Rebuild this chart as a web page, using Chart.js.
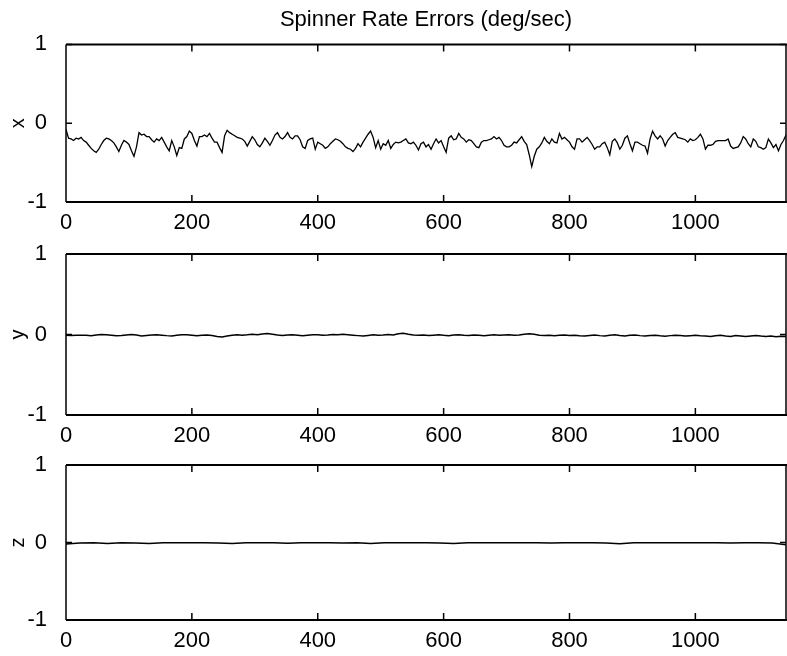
<!DOCTYPE html>
<html>
<head>
<meta charset="utf-8">
<script src="https://cdn.jsdelivr.net/npm/chart.js@4.4.1/dist/chart.umd.min.js"></script>
<style>
  html, body { margin: 0; padding: 0; background: #fff; }
  #wrap { position: relative; width: 787px; height: 656px; overflow: hidden; }
  canvas { position: absolute; left: 0; }
</style>
</head>
<body>
<div id="wrap">
  <canvas id="cx" width="787" height="238" style="top:0px"></canvas>
  <canvas id="cy" width="787" height="215" style="top:236px"></canvas>
  <canvas id="cz" width="787" height="209" style="top:447px"></canvas>
</div>
<script>
// Spinner rate errors, three axes (deg/sec)

const TITLE = "Spinner Rate Errors (deg/sec)";
const T_MAX = 1144;
const T_TICKS = [0, 200, 400, 600, 800, 1000];
const Y_TICKS = [-1, 0, 1];

// x error, one sample every 4 time units
const X_STEP = 4;
const X_ERR = [
  -0.08,-0.19,-0.20,-0.22,-0.19,-0.20,-0.18,-0.22,-0.24,-0.28,
  -0.32,-0.35,-0.37,-0.33,-0.27,-0.22,-0.19,-0.20,-0.22,-0.25,
  -0.30,-0.36,-0.28,-0.22,-0.24,-0.27,-0.35,-0.42,-0.30,-0.12,
  -0.15,-0.14,-0.17,-0.17,-0.21,-0.24,-0.20,-0.22,-0.18,-0.24,
  -0.30,-0.35,-0.22,-0.30,-0.41,-0.31,
  -0.32,-0.20,-0.17,-0.10,-0.13,-0.22,-0.29,-0.17,-0.17,-0.15,
  -0.17,-0.13,-0.19,-0.24,-0.24,-0.31,-0.37,-0.16,-0.09,-0.12,
  -0.14,-0.16,-0.18,-0.19,-0.20,-0.23,-0.29,-0.23,-0.17,-0.21,
  -0.27,-0.30,-0.25,-0.19,-0.23,-0.28,-0.22,-0.15,-0.12,-0.18,
  -0.20,-0.17,-0.12,-0.18,-0.20,-0.16,-0.16,-0.21,-0.30,-0.32,
  -0.22,-0.20,-0.19,-0.33,-0.24,-0.26,-0.28,-0.32,-0.30,-0.26,
  -0.23,-0.20,-0.21,-0.23,-0.26,-0.30,-0.32,-0.33,-0.36,-0.32,
  -0.26,-0.30,-0.24,-0.19,-0.14,-0.10,-0.18,-0.31,-0.22,-0.33,
  -0.26,-0.28,-0.22,-0.32,-0.27,-0.24,-0.25,-0.24,-0.22,-0.20,
  -0.25,-0.26,-0.24,-0.28,-0.34,-0.26,-0.24,
  -0.30,-0.27,-0.33,-0.26,-0.20,-0.25,-0.22,-0.30,-0.37,-0.19,
  -0.16,-0.21,-0.20,-0.13,-0.18,-0.20,-0.24,-0.21,-0.22,-0.26,
  -0.30,-0.31,-0.24,-0.22,-0.22,-0.21,-0.20,-0.17,-0.20,-0.18,
  -0.22,-0.28,-0.30,-0.30,-0.28,-0.24,-0.25,-0.21,-0.17,-0.23,
  -0.27,-0.40,-0.55,-0.42,-0.33,-0.30,-0.25,-0.18,
  -0.23,-0.26,-0.20,-0.24,-0.25,-0.13,-0.20,-0.18,-0.21,-0.24,
  -0.30,-0.33,-0.20,-0.20,-0.24,-0.21,-0.18,-0.22,-0.27,-0.33,
  -0.30,-0.30,-0.26,-0.24,-0.31,-0.40,-0.23,-0.20,-0.25,-0.33,
  -0.28,-0.19,-0.16,-0.26,-0.35,-0.24,-0.24,-0.26,-0.28,-0.29,
  -0.38,-0.20,-0.10,-0.16,-0.20,-0.16,-0.20,
  -0.29,-0.22,-0.18,-0.14,-0.12,-0.18,-0.19,-0.20,-0.21,-0.24,
  -0.20,-0.22,-0.21,-0.18,-0.14,-0.20,-0.33,-0.28,-0.28,-0.27,
  -0.23,-0.22,-0.22,-0.22,-0.22,-0.20,-0.29,-0.32,-0.31,-0.30,
  -0.25,-0.17,-0.20,-0.26,-0.30,-0.20,-0.23,-0.30,-0.31,-0.33,
  -0.31,-0.20,-0.25,-0.31,-0.27,-0.35,-0.27,-0.22,-0.15
];

// y error, one sample every 8 time units
const Y_STEP = 8;
const Y_ERR = [
  -0.010,-0.012,-0.010,-0.008,-0.010,-0.014,-0.006,0.000,-0.004,-0.010,-0.016,-0.012,-0.006,0.000,-0.006,-0.018,-0.012,-0.006,-0.002,-0.008,-0.014,-0.018,-0.010,-0.004,-0.002,
  -0.008,-0.014,-0.010,-0.006,-0.012,-0.026,-0.030,-0.020,-0.010,-0.004,-0.008,-0.004,0.002,-0.004,0.006,0.012,0.004,-0.006,-0.012,-0.006,-0.002,-0.008,-0.014,-0.008,-0.002,
  -0.004,-0.010,-0.006,0.000,-0.004,0.002,-0.002,-0.008,-0.014,-0.020,-0.012,-0.004,-0.010,-0.006,0.000,-0.006,0.008,0.016,0.004,-0.006,-0.010,-0.006,-0.012,-0.008,-0.004,
  -0.010,-0.014,-0.006,-0.002,-0.008,-0.012,-0.006,-0.010,-0.016,-0.008,-0.004,-0.010,-0.006,-0.002,-0.008,-0.006,0.004,0.010,0.002,-0.008,-0.012,-0.010,-0.014,-0.010,-0.006,
  -0.012,-0.008,-0.016,-0.020,-0.012,-0.006,-0.014,-0.020,-0.010,-0.004,-0.012,-0.018,-0.010,-0.006,-0.014,-0.020,-0.012,-0.008,-0.016,-0.022,-0.014,-0.008,-0.012,-0.018,-0.014,
  -0.010,-0.016,-0.020,-0.024,-0.016,-0.010,-0.018,-0.024,-0.014,-0.020,-0.026,-0.018,-0.012,-0.020,-0.026,-0.020,-0.028,-0.022,-0.026
];

// z error, one sample every 22 time units
const Z_STEP = 22;
const Z_ERR = [
  -0.020,-0.006,-0.004,-0.014,-0.004,-0.006,-0.012,-0.004,-0.002,-0.004,
  -0.004,-0.006,-0.012,-0.004,-0.002,-0.004,-0.010,-0.004,-0.002,-0.004,
  -0.006,-0.004,-0.012,-0.004,-0.002,-0.004,-0.004,-0.006,-0.014,-0.004,
  -0.002,-0.004,-0.004,-0.002,-0.004,-0.006,-0.004,-0.002,-0.004,-0.006,
  -0.016,-0.004,-0.002,-0.004,-0.004,-0.002,-0.004,-0.004,-0.006,-0.004,
  -0.004,-0.008,-0.030
];

Chart.defaults.font.family = "'Liberation Sans', Arial, Helvetica, sans-serif";
Chart.defaults.color = "#000";

// box round the plot plus inward tick marks, like the old matlab figures
const framePlugin = {
  id: "frame",
  afterDraw(chart) {
    const { ctx, chartArea: a, scales } = chart;
    ctx.save();
    ctx.strokeStyle = "#000";
    ctx.lineWidth = 2;
    ctx.beginPath();
    ctx.moveTo(a.left, a.top); ctx.lineTo(a.right + 1, a.top);
    ctx.moveTo(a.left, a.bottom); ctx.lineTo(a.right + 1, a.bottom);
    ctx.stroke();
    ctx.lineWidth = 1.5;
    ctx.beginPath();
    ctx.moveTo(a.left, a.top); ctx.lineTo(a.left, a.bottom);
    ctx.moveTo(a.right, a.top); ctx.lineTo(a.right, a.bottom);
    scales.x.ticks.forEach(t => {
      const px = scales.x.getPixelForValue(t.value);
      ctx.moveTo(px, a.top); ctx.lineTo(px, a.top + 7);
      ctx.moveTo(px, a.bottom); ctx.lineTo(px, a.bottom - 7);
    });
    scales.y.ticks.forEach(t => {
      const py = scales.y.getPixelForValue(t.value);
      ctx.moveTo(a.left, py); ctx.lineTo(a.left + 6, py);
      ctx.moveTo(a.right, py); ctx.lineTo(a.right - 6, py);
    });
    ctx.stroke();
    ctx.restore();
  },
};

function makePanel(id, values, step, label, withTitle, padTop, lw) {
  const pts = values.map((v, i) => ({ x: i * step, y: v }));
  new Chart(document.getElementById(id), {
    type: "line",
    data: {
      datasets: [{
        data: pts,
        borderColor: "#000",
        borderWidth: lw,
        pointRadius: 0,
        tension: 0,
        fill: false,
      }],
    },
    options: {
      responsive: false,
      animation: false,
      layout: { padding: { top: padTop, right: 1, left: 0, bottom: 0 } },
      plugins: {
        legend: { display: false },
        tooltip: { enabled: false },
        title: {
          display: withTitle,
          text: TITLE,
          fullSize: false,
          color: "#000",
          font: { size: 22, weight: "normal" },
          padding: { top: 7, bottom: 11 },
        },
      },
      scales: {
        x: {
          type: "linear",
          min: 0,
          max: T_MAX,
          grid: { display: false },
          border: { display: false },
          afterBuildTicks: s => { s.ticks = T_TICKS.map(v => ({ value: v })); },
          afterFit: s => { s.height = 36; s.paddingLeft = 0; s.paddingRight = 0; },
          ticks: { font: { size: 22 }, color: "#000", padding: 0, maxRotation: 0, callback: v => String(v) },
        },
        y: {
          min: -1,
          max: 1,
          grid: { display: false },
          border: { display: false },
          afterBuildTicks: s => { s.ticks = Y_TICKS.map(v => ({ value: v })); },
          afterFit: s => { s.width = 66; s.paddingTop = 0; s.paddingBottom = 0; },
          ticks: { font: { size: 22 }, color: "#000", padding: 11, callback: v => String(v) },
          title: {
            display: true,
            text: label,
            color: "#000",
            font: { size: 20 },
            padding: { top: 6, bottom: 0 },
          },
        },
      },
    },
    plugins: [framePlugin],
  });
}

makePanel("cx", X_ERR, X_STEP, "x", true, 0, 1.3);
makePanel("cy", Y_ERR, Y_STEP, "y", false, 18, 1.5);
makePanel("cz", Z_ERR, Z_STEP, "z", false, 18, 1.5);
</script>
</body>
</html>
